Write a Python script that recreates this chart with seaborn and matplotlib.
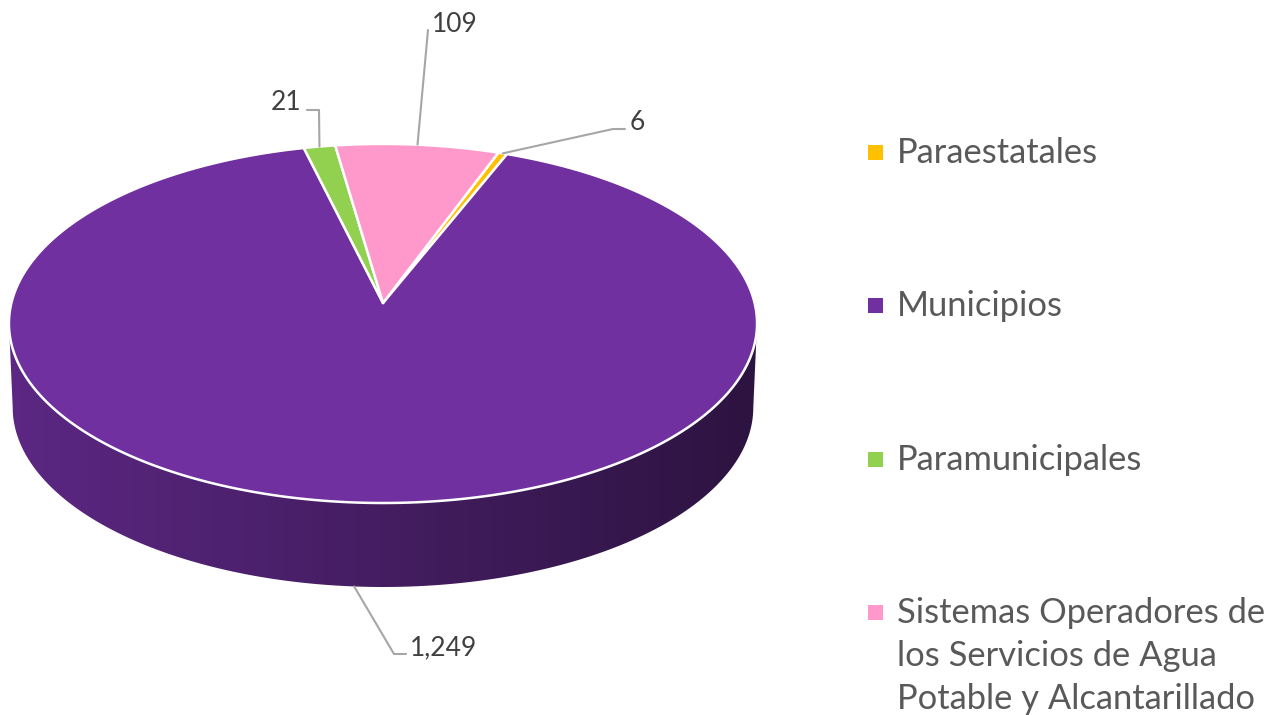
import numpy as np
import matplotlib
matplotlib.use("Agg")
import matplotlib.pyplot as plt
import seaborn as sns
from matplotlib.patches import Polygon, Rectangle
from matplotlib.colors import to_rgb

# Data
categories = ["Paraestatales", "Municipios", "Paramunicipales",
              "Sistemas Operadores de\nlos Servicios de Agua\nPotable y Alcantarillado"]
values = [6, 1249, 21, 109]
colors = ["#FFC000", "#7030A0", "#92D050", "#FF99CC"]
value_labels = [f"{v:,}" for v in values]

sns.set_theme(style="white")
plt.rcParams['font.family'] = ['Lato', 'DejaVu Sans']

# 3D pie geometry (pixel space)
CX, CY = 383, 303
R, S, K = 371.6, 177.2, 0.114
DEPTH = 84
START = 20.1  # angle of first slice, clockwise from 12 o'clock


def project(theta, drop=0.0, shrink=1.0):
    th = np.radians(theta)
    u, v = np.sin(th), np.cos(th)
    w = 1 + K * v
    return CX + R * shrink * u / w, CY - S * v / w + drop


fig = plt.figure(figsize=(12.8, 7.15), dpi=100)
ax = fig.add_axes([0, 0, 1, 1])

fracs = np.array(values) / sum(values) * 360
ends = START + np.cumsum(fracs)
starts = ends - fracs

# side wall (only the front part is visible)
sil1 = np.degrees(np.arccos(-K))
sil2 = 360 - sil1
for a0, a1, col in zip(starts, ends, colors):
    for shift in (0, -360):
        lo, hi = max(a0 + shift, sil1), min(a1 + shift, sil2)
        if hi <= lo:
            continue
        th = np.linspace(lo, hi, 200)
        tx, ty = project(th)
        bx, by = project(th[::-1], drop=DEPTH, shrink=0.99)
        side = Polygon(np.column_stack([np.r_[tx, bx], np.r_[ty, by]]),
                       closed=True, facecolor="none", edgecolor="none")
        ax.add_patch(side)
        base = np.array(to_rgb(col))
        f = np.linspace(0.82, 0.40, 256)
        grad = (f[:, None] * base[None, :])[None, :, :]
        img = ax.imshow(grad, extent=(CX - R - 5, CX + R + 5, CY + 300, CY - 50),
                        aspect="auto", interpolation="bilinear", zorder=1)
        img.set_clip_path(side)

# top face
for a0, a1, col in zip(starts, ends, colors):
    th = np.linspace(a0, a1, max(int((a1 - a0) * 3), 10))
    rx, ry = project(th)
    pts = np.column_stack([np.r_[CX, rx], np.r_[CY, ry]])
    ax.add_patch(Polygon(pts, closed=True, facecolor=col, edgecolor="white",
                         linewidth=1.8, joinstyle="round", zorder=2))

# data labels with leader lines
leader_pts = [[(613, 129), (625, 129)], [(394, 654), (406, 654)],
              [(319, 110), (307, 110)], [(428, 30)]]
label_pos = [(630, 130, "left"), (410, 655, "left"), (301, 110, "right"), (432, 32, "left")]
mids = (starts + ends) / 2
for i, (m, txt) in enumerate(zip(mids, value_labels)):
    front = np.cos(np.radians(m)) < -K
    ax0, ay0 = project(m, drop=DEPTH if front else 0.0, shrink=0.99 if front else 1.0)
    xs = [ax0] + [p[0] for p in leader_pts[i]]
    ys = [ay0] + [p[1] for p in leader_pts[i]]
    ax.plot(xs, ys, color="#a6a6a6", linewidth=1.5, zorder=3)
    lx, ly, ha = label_pos[i]
    ax.text(lx, ly, txt, ha=ha, va="baseline", fontsize=19, color="#404040", zorder=4)

# legend
for i, (cat, col) in enumerate(zip(categories, colors)):
    base_y = 163 + i * 153.3
    ax.add_patch(Rectangle((868, base_y - 18), 15, 15, facecolor=col, edgecolor="none"))
    for j, line in enumerate(cat.split("\n")):
        ax.text(897, base_y + j * 43, line, ha="left", va="baseline",
                fontsize=24.8, color="#595959")

ax.set_xlim(0, 1280)
ax.set_ylim(715, 0)
ax.axis("off")
fig.savefig("out.png", dpi=100)
